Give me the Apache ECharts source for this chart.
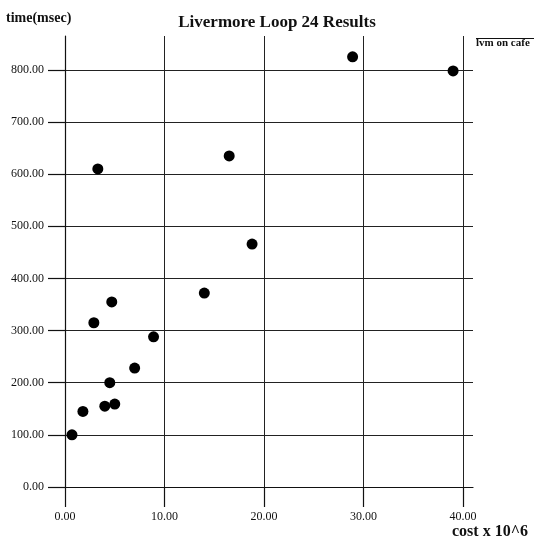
<!DOCTYPE html>
<html>
<head>
<meta charset="utf-8">
<script src="https://cdn.jsdelivr.net/npm/echarts@6/dist/echarts.min.js"></script>
<style>
  html, body { margin: 0; padding: 0; background: #fff; }
  #chart { width: 539px; height: 540px; }
</style>
</head>
<body>
<div id="chart"></div>
<script>
// cost x 10^6 vs time(msec)
const costs = [0.7, 1.8, 2.9, 3.3, 4.0, 4.5, 4.7, 5.0, 7.0, 8.9, 14.0, 16.5, 18.8, 28.9, 39.0];
const times = [100, 145, 315, 610, 155, 200, 355, 159, 228, 288, 372, 635, 466, 825, 798];
const xTicks = [0, 10, 20, 30, 40];
const yTicks = [0, 100, 200, 300, 400, 500, 600, 700, 800];
const seriesName = "lvm on cafe";

const serif = "'Liberation Serif', 'DejaVu Serif', serif";
const ink = "#111";

let myChart = echarts.init(document.getElementById("chart"));
let option;

option = {
  backgroundColor: "#fff",
  animation: false,
  title: {
    text: "Livermore Loop 24 Results",
    left: 272,
    textAlign: "center",
    top: 9,
    textStyle: { fontFamily: serif, fontSize: 17, fontWeight: "bold", color: ink },
  },
  grid: { left: 65, right: 66, top: 36, bottom: 53 },
  xAxis: {
    type: "value",
    min: 0,
    max: 41,
    name: "cost x 10^6",
    nameLocation: "end",
    nameGap: 0,
    nameTextStyle: {
      fontFamily: serif, fontSize: 16, fontWeight: "bold", color: ink,
      align: "left", verticalAlign: "top", padding: [37, 0, 0, -21],
    },
    axisLine: { show: true, onZero: false, lineStyle: { color: ink, width: 1.2 } },
    axisTick: { show: true, length: 20, customValues: xTicks, lineStyle: { color: ink, width: 1.2 } },
    axisLabel: {
      customValues: xTicks,
      margin: 24,
      fontFamily: serif, fontSize: 12, color: ink,
      formatter: (v) => v.toFixed(2),
    },
    splitLine: { show: true, lineStyle: { color: "#222", width: 1 } },
  },
  yAxis: {
    type: "value",
    min: 0,
    max: 865,
    axisLine: { show: true, onZero: false, lineStyle: { color: ink, width: 1.2 } },
    axisTick: { show: true, length: 17, customValues: yTicks, lineStyle: { color: ink, width: 1.2 } },
    axisLabel: {
      customValues: yTicks,
      margin: 21,
      fontFamily: serif, fontSize: 12, color: ink,
      formatter: (v) => v.toFixed(2),
    },
    splitLine: { show: true, lineStyle: { color: "#222", width: 1 } },
  },
  graphic: [
    {
      type: "text",
      left: 6,
      top: 11,
      style: { text: "time(msec)", font: "bold 14px " + serif, fill: ink },
    },
    {
      type: "text",
      left: 476,
      top: 38,
      style: { text: seriesName, font: "bold 11px " + serif, fill: ink },
    },
    {
      type: "line",
      shape: { x1: 476, y1: 38.5, x2: 534, y2: 38.5 },
      style: { stroke: ink, lineWidth: 1 },
    },
  ],
  series: [
    {
      name: seriesName,
      type: "scatter",
      symbol: "circle",
      symbolSize: 11,
      itemStyle: { color: "#000", opacity: 1 },
      data: costs.map((c, i) => [c, times[i]]),
    },
  ],
};

option && myChart.setOption(option);
</script>
</body>
</html>
